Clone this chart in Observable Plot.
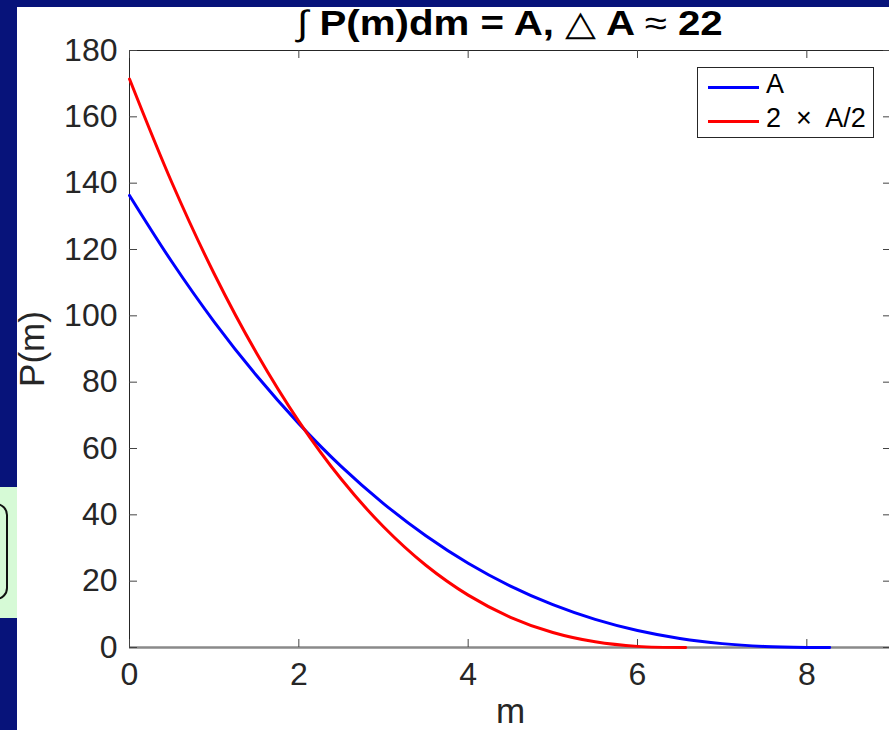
<!DOCTYPE html>
<html><head><meta charset="utf-8">
<script src="https://cdn.jsdelivr.net/npm/d3@7"></script>
<script src="https://cdn.jsdelivr.net/npm/@observablehq/plot@0.6"></script>
<style>
html,body{margin:0;padding:0;width:889px;height:730px;overflow:hidden;background:#07137a;font-family:"Liberation Sans",Arial,sans-serif;color:#262626}
#white{position:absolute;left:17px;top:7px;right:0;bottom:0;background:#fff}
#green{position:absolute;left:0;top:487px;width:17px;height:131px;background:#d6fad6;overflow:hidden}
#green div{position:absolute;left:-24px;top:16px;width:28px;height:93px;border:2px solid #111;border-radius:12px}
#chart{position:absolute;left:0;top:0;width:895px;height:730px}
#chart svg{max-width:none}
#title{position:absolute;left:0;width:1020px;top:5px;text-align:center;font-size:35px;line-height:35px;font-weight:bold;color:#000;white-space:pre;transform:scaleX(1.15);transform-origin:510px 0}
#title .s{font-weight:normal}
#legend{position:absolute;left:697px;top:67px;width:175px;height:69px;border:1px solid #262626;background:#fff;font-size:27px;line-height:27px;color:#000}
#legend .row{position:absolute;left:0;width:175px;height:27px}
#legend .sw{position:absolute;left:10px;width:51px;height:3px}
#legend .lab{position:absolute;left:68px;top:0;white-space:pre}
</style></head>
<body>
<div id="white"></div>
<div id="green"><div></div></div>
<div id="chart"></div>
<div id="title"><span class="s">∫</span> P(m)dm = A, <span class="s">△</span> A <span class="s">≈</span> 22</div>
<div id="legend"></div>
<script>
const xTicks = [0, 2, 4, 6, 8];
const yTicks = [0, 20, 40, 60, 80, 100, 120, 140, 160, 180];
const seriesNames = ["A", "2 × A/2"];
const seriesColors = ["#0000ff", "#ff0000"];
const blueM = [0, 0.5, 1, 1.5, 2, 2.5, 3, 3.5, 4, 4.5, 5, 5.5, 6, 6.5, 7, 7.5, 8, 8.27];
const blueP = [136.3, 116.3, 98.2, 82.0, 67.5, 54.6, 43.4, 33.7, 25.4, 18.5, 12.9, 8.47, 5.11, 2.72, 1.17, 0.33, 0.02, 0];
const redM = [0, 0.5, 1, 1.5, 2, 2.5, 3, 3.5, 4, 4.5, 5, 5.5, 6, 6.57];
const redP = [171.4, 140.2, 112.7, 88.8, 68.2, 50.8, 36.4, 24.8, 15.8, 9.12, 4.52, 1.71, 0.34, 0];

const blue = blueM.map((m, i) => ({m, p: blueP[i]}));
const red = redM.map((m, i) => ({m, p: redP[i]}));

const W = 895, H = 730, ML = 129, MR = 4, MT = 50, MB = 83;
const fw = W - ML - MR, fh = H - MT - MB, tl = 8;

const chart = Plot.plot({
  width: W, height: H,
  marginLeft: ML, marginRight: MR, marginTop: MT, marginBottom: MB,
  style: {background: "transparent", fontFamily: '"Liberation Sans", Arial, sans-serif', fontSize: "32px", color: "#262626", overflow: "visible", maxWidth: "none"},
  x: {domain: [0, 9]},
  y: {domain: [0, 180]},
  marks: [
    Plot.frame({stroke: "#262626", strokeWidth: 1}),
    Plot.ruleY([0], {stroke: "#8a8a8a", strokeWidth: 2.5}),
    Plot.tickY(yTicks, {y: d => d, insetRight: fw - tl, stroke: "#444", strokeWidth: 1}),
    Plot.tickY(yTicks, {y: d => d, insetLeft: fw - tl, stroke: "#444", strokeWidth: 1}),
    Plot.tickX(xTicks, {x: d => d, insetTop: fh - tl, stroke: "#444", strokeWidth: 1}),
    Plot.tickX(xTicks, {x: d => d, insetBottom: fh - tl, stroke: "#444", strokeWidth: 1}),
    Plot.axisX({ticks: xTicks, tickSize: 0, tickPadding: 15, fontSize: 32, label: null}),
    Plot.axisY({ticks: yTicks, tickSize: 0, tickPadding: 12, fontSize: 32, label: null}),
    Plot.line(blue, {x: "m", y: "p", stroke: seriesColors[0], strokeWidth: 3, curve: "catmull-rom"}),
    Plot.line(red, {x: "m", y: "p", stroke: seriesColors[1], strokeWidth: 3, curve: "catmull-rom"}),
    Plot.text(["m"], {frameAnchor: "bottom", dy: 75, lineAnchor: "bottom", fontSize: 35, fill: "#262626", text: d => d}),
    Plot.text(["P(m)"], {frameAnchor: "left", dx: -86, rotate: -90, textAnchor: "middle", lineAnchor: "bottom", fontSize: 35, fill: "#262626", text: d => d})
  ]
});
document.getElementById("chart").appendChild(chart);

const leg = document.getElementById("legend");
seriesNames.forEach((name, i) => {
  const row = document.createElement("div");
  row.className = "row";
  row.style.top = (3 + i * 34) + "px";
  const sw = document.createElement("div");
  sw.className = "sw";
  sw.style.background = seriesColors[i];
  sw.style.top = "15px";
  const lab = document.createElement("div");
  lab.className = "lab";
  lab.textContent = name.replace(" × ", "  ×  ");
  row.appendChild(sw); row.appendChild(lab);
  leg.appendChild(row);
});
</script>
</body></html>
